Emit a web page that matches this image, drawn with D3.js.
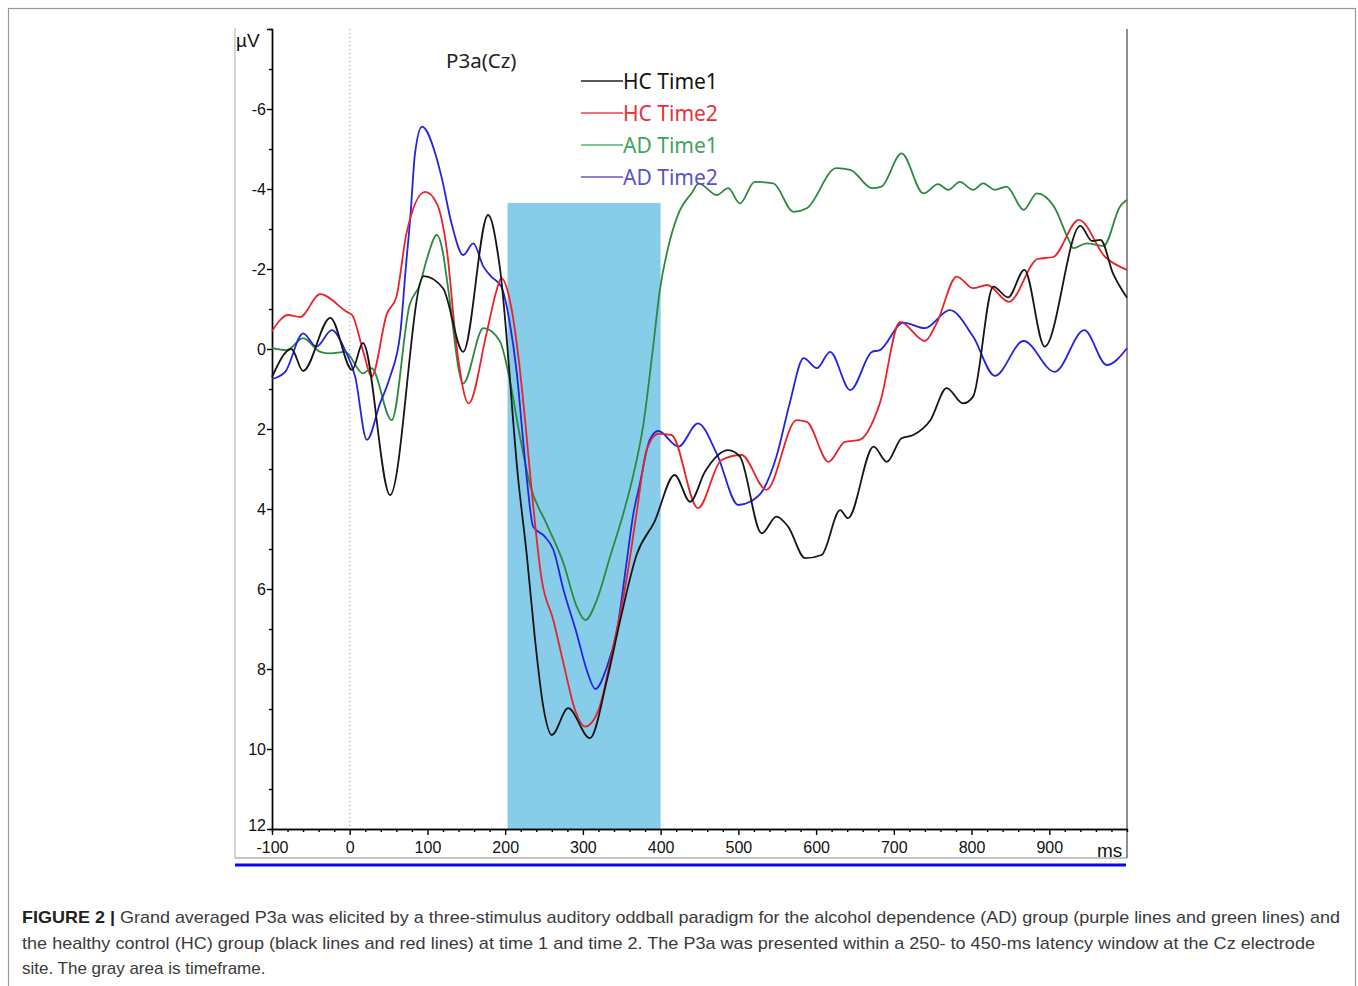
<!DOCTYPE html>
<meta charset="utf-8">
<script src="https://cdn.jsdelivr.net/npm/d3@7"></script>
<head>
<style>
    body { margin: 0; background: #fff; }
</style>
</head>
<body>
<script>

    // time axis (ms) and window
    var xTicksMajor = [-100, 0, 100, 200, 300, 400, 500, 600, 700, 800, 900];
    var yTicksMajor = [-6, -4, -2, 0, 2, 4, 6, 8, 10, 12];
    var windowStart = 203, windowEnd = 400, windowTop = -3.65;

    // HC Time1 (black)
    var hc1Time = [-100,-75,-60,-25,3,17,52,95,120,146,178,193,217,228,238,249,260,281,309,331,348,369,392,418,438,457,487,502,530,549,564,586,607,631,641,674,691,710,725,747,768,789,802,828,847,868,894,940,955,966,982,1000];
    var hc1Value = [0.7,0.0,0.55,-0.78,0.52,-0.15,3.65,-1.82,-1.52,0.07,-3.35,-2.06,3.3,5.19,7.19,8.94,9.65,8.98,9.73,8.27,6.78,5.15,4.32,3.15,3.82,3.07,2.53,2.69,4.61,4.19,4.44,5.23,5.15,4.03,4.23,2.44,2.82,2.23,2.15,1.78,0.98,1.36,1.19,-1.56,-1.29,-1.98,-0.06,-3.08,-2.7,-2.73,-1.89,-1.28];

    // HC Time2 (red)
    var hc2Time = [-100,-79,-64,-38,-4,3,18,28,48,60,73,97,112,125,138,153,176,189,195,206,217,226,234,247,262,275,290,303,320,339,356,369,382,397,414,448,478,504,536,575,588,616,637,656,682,708,740,755,781,802,820,848,885,905,938,972,1000];
    var hc2Value = [-0.45,-0.85,-0.8,-1.37,-0.93,-0.85,0.11,0.69,-0.89,-1.3,-2.89,-3.93,-3.64,-2.47,0.02,1.36,-0.39,-1.47,-1.77,-1.22,0.19,1.86,3.52,5.77,6.78,7.86,9.03,9.44,9.03,7.44,5.77,4.11,2.52,2.12,2.15,3.98,2.78,2.65,3.52,1.78,1.82,2.82,2.32,2.27,1.36,-0.68,-0.2,-0.64,-1.81,-1.52,-1.6,-1.18,-2.25,-2.3,-3.23,-2.3,-1.98];

    // AD Time1 (green)
    var ad1Time = [-100,-81,-60,-38,-25,-6,17,28,54,77,90,100,112,120,126,146,172,193,206,219,232,253,275,292,303,318,335,352,363,378,390,399,412,425,440,449,472,487,502,521,545,571,588,626,644,672,684,710,738,757,770,785,802,815,830,845,867,884,906,925,931,948,970,991,1000];
    var ad1Value = [-0.02,0.03,-0.27,0.07,0.11,0.07,0.61,0.48,1.78,-1.1,-1.6,-2.3,-2.85,-2.4,-1.6,0.86,-0.52,-0.2,0.78,2.19,3.4,4.36,5.36,6.44,6.78,6.27,5.19,4.11,3.3,1.86,0.0,-1.47,-2.72,-3.48,-3.9,-4.14,-3.85,-4.02,-3.64,-4.18,-4.14,-3.43,-3.52,-4.52,-4.48,-4.02,-4.06,-4.89,-3.89,-4.12,-3.98,-4.18,-3.98,-4.14,-3.98,-4.06,-3.48,-3.89,-3.56,-2.73,-2.52,-2.64,-2.58,-3.56,-3.73];

    // AD Time2 (blue)
    var ad2Time = [-100,-83,-60,-43,-23,-6,7,22,39,52,65,72,78,84,93,110,118,131,146,159,172,182,195,206,215,223,228,236,251,262,275,292,305,316,331,344,356,365,373,386,397,423,448,472,500,515,532,549,566,584,601,618,644,672,682,712,740,772,802,830,867,907,945,974,1000];
    var ad2Value = [0.75,0.57,-0.39,-0.06,-0.47,0.03,0.69,2.27,1.36,0.69,-0.39,-2.0,-3.3,-4.89,-5.56,-4.89,-4.31,-3.14,-2.35,-2.64,-2.06,-1.81,-1.56,-0.64,0.61,2.27,3.27,4.44,4.69,5.02,6.02,7.11,8.03,8.5,7.94,7.02,5.36,4.11,3.4,2.27,2.05,2.44,1.86,2.61,3.9,3.82,3.52,2.69,1.36,0.23,0.48,0.07,1.03,0.07,0.03,-0.66,-0.52,-0.97,-0.31,0.67,-0.2,0.57,-0.47,0.4,-0.02];

    var seriesNames = ["HC Time1", "HC Time2", "AD Time1", "AD Time2"];
    var seriesColors = ["#161616", "#e8232b", "#2b8a3e", "#2424e0"];
    var legendTextColors = ["#141414", "#e8303a", "#3ea45e", "#5a52c8"];
    var legendLineColors = ["#222", "#e8404a", "#5ab070", "#6660c0"];

    var captionLines = [
        "Grand averaged P3a was elicited by a three-stimulus auditory oddball paradigm for the alcohol dependence (AD) group (purple lines and green lines) and",
        "the healthy control (HC) group (black lines and red lines) at time 1 and time 2. The P3a was presented within a 250- to 450-ms latency window at the Cz electrode",
        "site. The gray area is timeframe."
    ];

    var W = 1358, H = 986;
    var svg = d3.select("body").append("svg")
        .attr("width", W)
        .attr("height", H);

    // outer frame
    svg.append("rect")
        .attr("x", 8.5).attr("y", 8.5)
        .attr("width", 1347).attr("height", 990)
        .style("fill", "none")
        .style("stroke", "#9a9a9a")
        .style("stroke-width", 1.2);

    var x = d3.scaleLinear().domain([-100, 1000]).range([272, 1127]);
    var y = d3.scaleLinear().domain([-8, 12]).range([29, 829]);

    // panel frame
    svg.append("line").attr("x1", 235).attr("x2", 235).attr("y1", 28).attr("y2", 858)
        .style("stroke", "#c8c8c8").style("stroke-width", 1.5);
    svg.append("line").attr("x1", 235).attr("x2", 1127).attr("y1", 858).attr("y2", 858)
        .style("stroke", "#b0b0b0").style("stroke-width", 1.5);
    svg.append("line").attr("x1", 1127).attr("x2", 1127).attr("y1", 29).attr("y2", 858)
        .style("stroke", "#6a6a6a").style("stroke-width", 1.5);
    svg.append("line").attr("x1", 235).attr("x2", 1126).attr("y1", 865).attr("y2", 865)
        .style("stroke", "#0a0af0").style("stroke-width", 3);

    // latency window
    svg.append("rect")
        .attr("x", x(windowStart))
        .attr("y", y(windowTop))
        .attr("width", x(windowEnd) - x(windowStart))
        .attr("height", y(12) - y(windowTop))
        .style("fill", "#87cdea");

    // stimulus onset
    svg.append("line")
        .attr("x1", x(0)).attr("x2", x(0))
        .attr("y1", y(-8)).attr("y2", y(12))
        .style("stroke", "#8a8a8a")
        .style("stroke-width", 1)
        .style("stroke-dasharray", "1,3");

    var plainNum = function(d) { return String(d); };

    // x axis
    var xAxisMinor = d3.axisBottom(x)
        .tickValues(d3.range(-80, 1000, 20).filter(function(d) { return d % 100 !== 0; }))
        .tickSize(3).tickFormat("");
    svg.append("g").attr("transform", "translate(0," + y(12) + ")").call(xAxisMinor);

    var xAxis = d3.axisBottom(x)
        .tickValues(xTicksMajor)
        .tickSize(6).tickPadding(3)
        .tickFormat(plainNum)
        .tickSizeOuter(0);
    var gx = svg.append("g").attr("transform", "translate(0," + y(12) + ")").call(xAxis);
    gx.selectAll("text")
        .attr("dy", "0.95em")
        .style("font-family", "'Liberation Sans', Arial, sans-serif")
        .style("font-size", "16px")
        .style("fill", "#111");

    // y axis
    var yAxisMinor = d3.axisLeft(y)
        .tickValues(d3.range(-7, 12, 2))
        .tickSize(3).tickFormat("");
    svg.append("g").attr("transform", "translate(" + x(-100) + ",0)").call(yAxisMinor);

    var yAxis = d3.axisLeft(y)
        .tickValues([-8].concat(yTicksMajor))
        .tickSize(5).tickPadding(1)
        .tickFormat(function(d) { return d === -8 ? "" : String(d); })
        .tickSizeOuter(0);
    var gy = svg.append("g").attr("transform", "translate(" + x(-100) + ",0)").call(yAxis);
    gy.selectAll("text")
        .style("font-family", "'Liberation Sans', Arial, sans-serif")
        .style("font-size", "16px")
        .style("fill", "#111");
    gy.selectAll(".tick").filter(function(d) { return d === 12; }).select("text")
        .attr("dy", "0.1em");

    svg.selectAll(".domain, .tick line")
        .style("stroke", "#000")
        .style("stroke-width", 1.4);

    svg.append("text")
        .attr("x", 236).attr("y", 47)
        .style("font-family", "'Liberation Sans', Arial, sans-serif")
        .style("font-size", "19px")
        .style("fill", "#111")
        .text("µV");

    svg.append("text")
        .attr("x", 1097).attr("y", 857)
        .style("font-family", "'Liberation Sans', Arial, sans-serif")
        .style("font-size", "19px")
        .style("fill", "#111")
        .text("ms");

    svg.append("text")
        .attr("x", 446).attr("y", 68)
        .style("font-family", "'Noto Sans', sans-serif")
        .style("font-size", "20.5px")
        .style("fill", "#222")
        .text("P3a(Cz)");

    // waveforms
    var seriesTimes = [hc1Time, hc2Time, ad1Time, ad2Time];
    var seriesValues = [hc1Value, hc2Value, ad1Value, ad2Value];

    var line = d3.line()
        .x(function(d) { return x(d[0]); })
        .y(function(d) { return y(d[1]); })
        .curve(d3.curveMonotoneX);

    // draw in the order green, blue, red, black like the figure stacking
    var drawOrder = [2, 3, 1, 0];
    drawOrder.forEach(function(i) {
        var pts = seriesTimes[i].map(function(t, k) { return [t, seriesValues[i][k]]; });
        svg.append("path")
            .datum(pts)
            .attr("d", line)
            .style("fill", "none")
            .style("stroke", seriesColors[i])
            .style("stroke-width", 1.8)
            .style("stroke-linejoin", "round");
    });

    // legend
    var legend = svg.append("g").attr("transform", "translate(581,81)");
    seriesNames.forEach(function(name, i) {
        legend.append("line")
            .attr("x1", 0).attr("x2", 42)
            .attr("y1", i * 32).attr("y2", i * 32)
            .style("stroke", legendLineColors[i])
            .style("stroke-width", 1.5);
        legend.append("text")
            .attr("x", 42).attr("y", i * 32 + 7.5)
            .style("font-family", "'Noto Sans', sans-serif")
            .style("font-size", "21px")
            .style("fill", legendTextColors[i])
            .text(name);
    });

    // caption
    var cap = svg.append("g")
        .style("font-family", "'Liberation Sans', Arial, sans-serif")
        .style("font-size", "17px")
        .style("fill", "#3a3a3a");
    var capLengths = [1318, 1293, null];
    captionLines.forEach(function(txt, i) {
        var t = cap.append("text")
            .attr("x", 22).attr("y", 923 + i * 25.5);
        if (i === 0) {
            t.append("tspan").style("font-weight", "bold").style("fill", "#222").text("FIGURE 2 | ");
        }
        t.append("tspan").text(txt);
        if (capLengths[i]) {
            t.attr("textLength", capLengths[i]).attr("lengthAdjust", "spacingAndGlyphs");
        }
    });

</script>
</body>
</html>
